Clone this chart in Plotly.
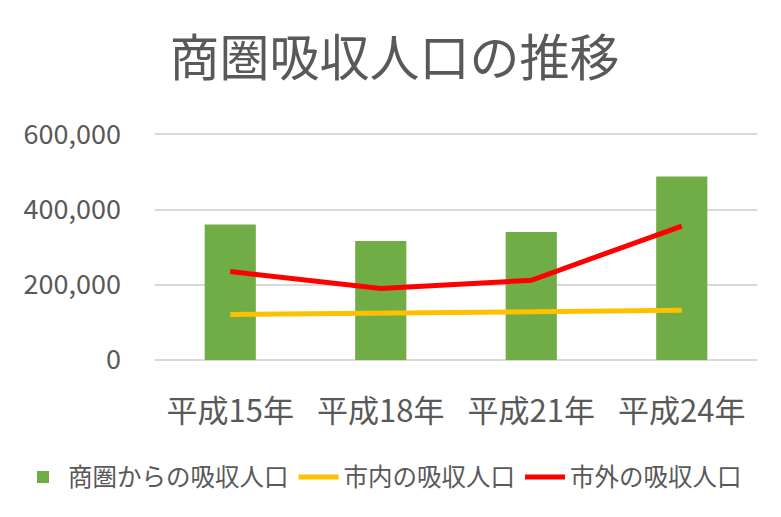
import plotly.graph_objects as go

categories = ["平成15年", "平成18年", "平成21年", "平成24年"]
shoken = [360000, 316000, 340000, 488000]
shinai = [121000, 125000, 128000, 132000]
shigai = [235000, 190000, 212000, 356000]
tick_vals = [0, 200000, 400000, 600000]
tick_text = ["0", "200,000", "400,000", "600,000"]

font_family = "Noto Sans CJK JP"
grey = "#595959"

fig = go.Figure()
fig.add_trace(go.Bar(x=categories, y=shoken, name="商圏からの吸収人口",
                     marker=dict(color="#70AD47", line=dict(width=0))))
fig.add_trace(go.Scatter(x=categories, y=shinai, name="市内の吸収人口", mode="lines",
                         line=dict(color="#FFC000", width=5)))
fig.add_trace(go.Scatter(x=categories, y=shigai, name="市外の吸収人口", mode="lines",
                         line=dict(color="#FF0000", width=5)))

# page body has an 8px margin, so the figure is offset by 8px
W, H = 773, 509
L, R, T, B = 147, 24, 124, 157
plot_h = H - T - B
fig.update_layout(
    width=W, height=H,
    paper_bgcolor="white", plot_bgcolor="white",
    margin=dict(l=L, r=R, t=T, b=B, autoexpand=False),
    title=dict(text="商圏吸収人口の推移", x=0.5, xanchor="center", y=1 - 50 / H, yanchor="middle",
               font=dict(family=font_family, size=50, color=grey)),
    font=dict(family=font_family, color=grey),
    bargap=0.66,
    showlegend=True,
    legend=dict(orientation="h", x=(10 - L) / (W - L - R), xanchor="left",
                y=-(469 - (H - B)) / plot_h, yanchor="middle",
                font=dict(size=24.5, color=grey), itemwidth=40, tracegroupgap=0),
)
fig.update_xaxes(showgrid=False, showline=False, ticks="", ticklabelstandoff=30,
                 tickfont=dict(size=31, color=grey, family=font_family))
fig.update_yaxes(range=[0, 606000], tickvals=tick_vals, ticktext=tick_text,
                 showgrid=True, gridcolor="#D9D9D9", gridwidth=1.5,
                 zeroline=True, zerolinecolor="#D9D9D9", zerolinewidth=1.5,
                 showline=False, ticks="", ticklabelstandoff=33,
                 tickfont=dict(size=27, color=grey, family=font_family))

fig.write_html("out.html")
